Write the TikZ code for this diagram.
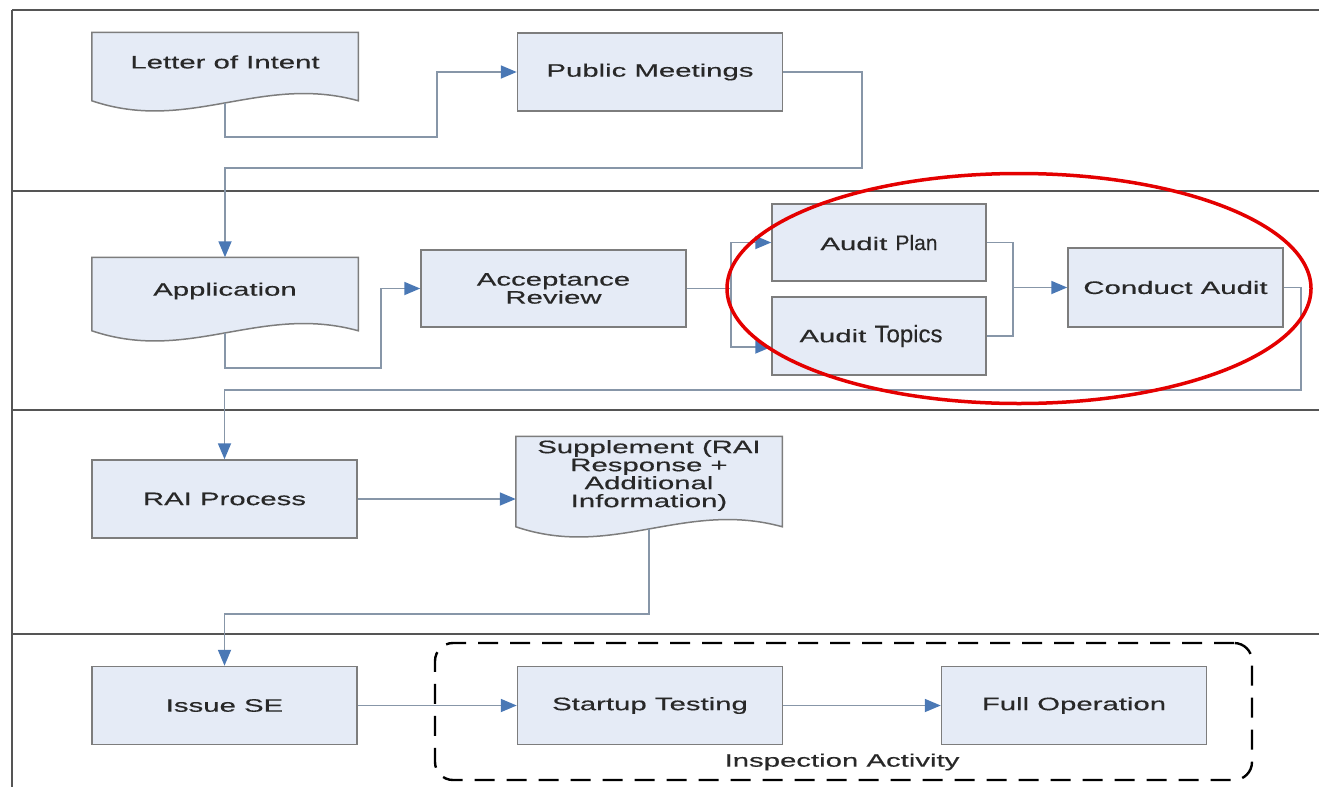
\documentclass[tikz,border=0pt]{standalone}
\usepackage{fontspec}
\setmainfont{Liberation Sans}
\newfontfamily\widefont[FakeStretch=1.63,FakeBold=0.4]{Liberation Sans}
\newfontfamily\plainfont[FakeBold=0.3]{Liberation Sans}
\usetikzlibrary{arrows.meta,calc,backgrounds}
\definecolor{boxfill}{RGB}{229,235,246}
\definecolor{boxline}{RGB}{125,125,125}
\definecolor{connc}{RGB}{135,150,168}
\definecolor{arrowc}{RGB}{74,120,181}
\definecolor{txt}{RGB}{40,40,40}
\definecolor{framec}{RGB}{85,85,85}
\definecolor{hilite}{RGB}{228,0,0}
\tikzset{
  box/.style={draw=boxline, fill=boxfill, line width=1.5pt, minimum width=265pt, minimum height=78pt,
    inner sep=0pt, font=\widefont\fontsize{18}{18}\selectfont, text=txt, align=center},
  docnode/.style={box, draw=none, fill=none},
  lbl/.style={inner sep=0pt, font=\widefont\fontsize{18}{18}\selectfont, text=txt},
  conn/.style={draw=connc, line width=1.8pt},
  arr/.style={conn, -{Triangle[length=16pt,width=13pt,color=arrowc]}},
  lane/.style={draw=framec, line width=2.5pt},
  insp/.style={draw=black, line width=2.4pt, dash pattern=on 20pt off 12pt, rounded corners=18pt,
    minimum width=817pt, minimum height=137pt, inner sep=0pt},
  hiring/.style={draw=hilite, line width=3.5pt}
}
\newcommand\docshape[2]{%
  \begin{scope}[on background layer]
    \path[draw=boxline, fill=boxfill, line width=1.5pt]
      (#1.north west) -- (#1.north east) -- ($(#1.south east)+(0,#2)$)
      .. controls ($(#1.south east)+(-98,#2-27)$) and ($(#1.south west)+(97,#2+33)$) ..
      ($(#1.south west)+(0,#2)$) -- cycle;
  \end{scope}}
\begin{document}
\begin{tikzpicture}[x=1pt,y=-1pt]
\useasboundingbox (0,0) rectangle (1319,787);
% frame and lanes
\coordinate (tl) at (12,10);
\coordinate (bl) at (12,787);
\draw[lane] (tl) -- (bl);
\draw[lane] (tl) -- (1319,10);
\draw[lane] (12,191) -- (1319,191);
\draw[lane] (12,410) -- (1319,410);
\draw[lane] (12,634) -- (1319,634);

% lane 1
\node[docnode, minimum height=58pt] (loi) at (225,62) {Letter of Intent};
\docshape{loi}{9}
\node[box] (pm) at (650,72) {Public Meetings};

% lane 2
\node[docnode, minimum height=66pt] (app) at (225,291) {Application};
\docshape{app}{6}
\node[box, minimum height=77pt] (ar) at (553.5,288.5) {Acceptance\\Review};
\node[box, minimum width=214pt, minimum height=77pt] (ap) at (879,242.5)
  {Audit {\plainfont\fontsize{21}{21}\selectfont Plan}};
\node[box, minimum width=214pt, minimum height=78pt] (at) at (879,336)
  {Audit {\plainfont\fontsize{24}{24}\selectfont Topics}\kern16pt};
\node[box, minimum width=215pt, minimum height=79pt] (ca) at (1175.5,287.5) {Conduct Audit};

% lane 3
\node[box] (rai) at (224.5,499) {RAI Process};
\node[docnode, minimum height=77pt] (sup) at (649,475.5)
  {Supplement (RAI\\Response +\\Additional\\Information)};
\docshape{sup}{12}

% lane 4
\node[box] (ise) at (224.5,705.5) {Issue SE};
\node[box] (st) at (650,705.5) {Startup Testing};
\node[box] (fo) at (1074,705.5) {Full Operation};
\node[insp] (ia) at (843.5,711.5) {};
\node[lbl] (ial) at (842,762) {Inspection Activity};

% connectors
\draw[arr] ($(loi.south)+(0,11)$) |- (437,137) |- (pm.west);
\draw[arr] (pm.east) -| (862,168) -| (app.north);
\draw[arr] ($(app.south)+(0,8)$) |- (381,368) |- (ar.west);
\coordinate (split) at (731,288.5);
\draw[conn] (ar.east) -- (split);
\draw[arr] (split) |- (ap.west);
\draw[arr] (split) |- ($(at.west)+(0,11)$);
\coordinate (merge) at (1013,287.5);
\draw[conn] (ap.east) -| (merge);
\draw[conn] (at.east) -| (merge);
\draw[arr] (merge) -- (ca.west);
\draw[arr] (ca.east) -| (1301,390) -| (rai.north);
\draw[arr] (rai.east) -- (rai.east -| sup.west);
\draw[arr] ($(sup.south)+(0,14)$) |- (300,614) -| (ise.north);
\draw[arr] (ise.east) -- (st.west);
\draw[arr] (st.east) -- (fo.west);

% highlight
\draw[hiring] (1019,288.5) ellipse [x radius=292, y radius=115];
\end{tikzpicture}
\end{document}
